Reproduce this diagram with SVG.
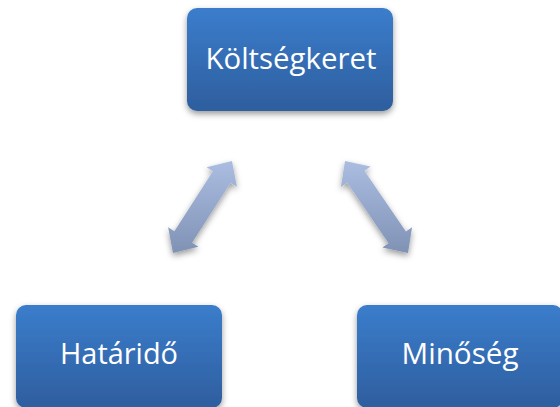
<svg xmlns="http://www.w3.org/2000/svg" width="560" height="407" viewBox="0 0 560 407">
<defs>
<linearGradient id="boxg" x1="0" y1="0" x2="0" y2="1">
<stop offset="0" stop-color="#3b7dcc"/>
<stop offset="1" stop-color="#2e5e9e"/>
</linearGradient>
<linearGradient id="arrg" x1="0" y1="160" x2="0" y2="255" gradientUnits="userSpaceOnUse">
<stop offset="0" stop-color="#abbee2"/>
<stop offset="1" stop-color="#7f91b3"/>
</linearGradient>
<filter id="sh" x="-20%" y="-20%" width="140%" height="150%">
<feDropShadow dx="0" dy="3" stdDeviation="3" flood-color="#000" flood-opacity="0.4"/>
</filter>
</defs>
<style>
.box{fill:url(#boxg);filter:url(#sh)}
.lbl{fill:#fff;font-family:"Open Sans","Liberation Sans",sans-serif;font-size:30px;text-anchor:middle}
.arr{fill:url(#arrg);filter:url(#sh)}
</style>
<g id="connectors">
<polygon class="arr" points="173,253 198.4,246.7 192.1,242.7 230.6,182.7 236.9,186.7 232,161 206.6,167.3 212.9,171.3 174.4,231.3 168.1,227.3"/>
<polygon class="arr" points="345,161 370.6,166.5 364.4,170.8 405.9,231.4 412.1,227.2 408,253 382.4,247.5 388.6,243.3 347.1,182.6 340.9,186.9"/>
</g>
<g id="koltsegkeret">
<rect class="box" x="187" y="8" width="206" height="103" rx="10"/>
<text class="lbl" x="291" y="69" textLength="171" lengthAdjust="spacingAndGlyphs">Költségkeret</text>
</g>
<g id="hatarido">
<rect class="box" x="16" y="305" width="206" height="103" rx="10"/>
<text class="lbl" x="119" y="364" textLength="118" lengthAdjust="spacingAndGlyphs">Határidő</text>
</g>
<g id="minoseg">
<rect class="box" x="357" y="305" width="206" height="103" rx="10"/>
<text class="lbl" x="460" y="364" textLength="117" lengthAdjust="spacingAndGlyphs">Minőség</text>
</g>
</svg>
